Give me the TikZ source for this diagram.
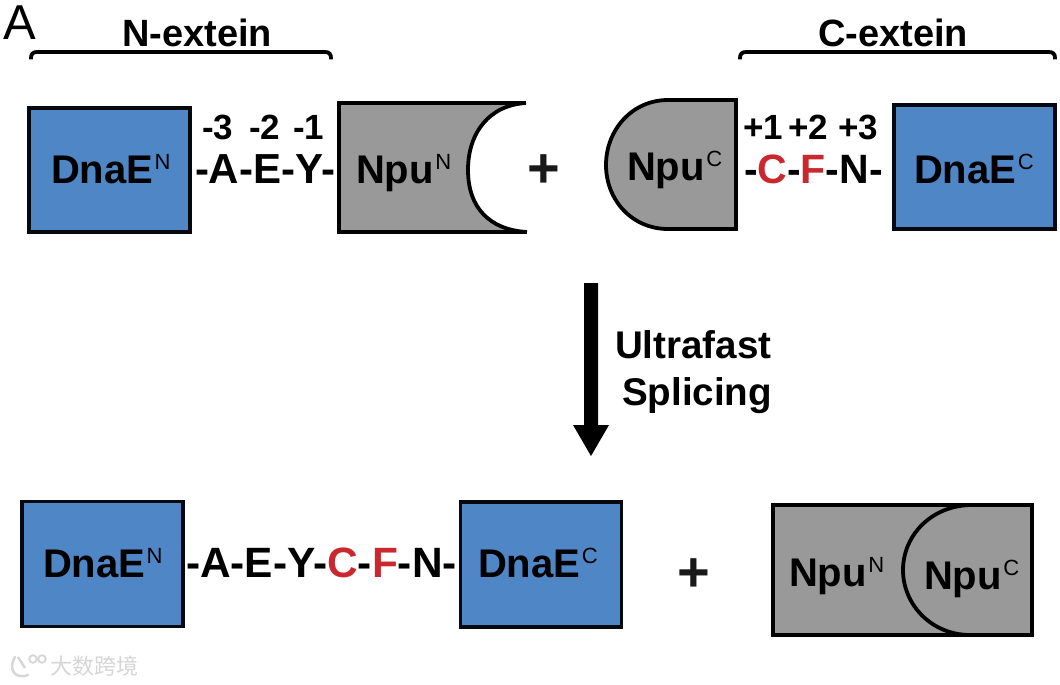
\documentclass[tikz,border=0pt]{standalone}
\usepackage{fontspec}
\setmainfont{Liberation Sans}
\newfontfamily\cjkwm{Noto Sans CJK SC}
\definecolor{boxblue}{HTML}{4F86C6}
\definecolor{boxgrey}{HTML}{999999}
\definecolor{resred}{HTML}{C8282E}
\definecolor{inkdark}{HTML}{05080F}
\definecolor{wmgrey}{HTML}{D6D6D6}
\newcommand{\supr}[1]{\kern1.5pt\raisebox{13.5pt}{\fontsize{22}{22}\selectfont\mdseries #1}}
\newcommand{\red}[1]{\textcolor{resred}{#1}}
\tikzset{
  lbl/.style={inner sep=0pt,outer sep=0pt,anchor=base west,text=black,font=\fontsize{40}{40}\selectfont\bfseries},
  seqlong/.style={lbl,font=\fontsize{42.4}{42.4}\selectfont\bfseries},
  seqshort/.style={lbl,font=\fontsize{41}{41}\selectfont\bfseries},
  seqleft/.style={lbl,font=\fontsize{42}{42}\selectfont\bfseries},
  num/.style={lbl,font=\fontsize{35}{35}\selectfont\bfseries},
  head/.style={lbl,font=\fontsize{38}{38}\selectfont\bfseries},
  stepfont/.style={lbl,font=\fontsize{38.6}{38.6}\selectfont\bfseries},
  plusmark/.style={inner sep=0pt,outer sep=0pt,anchor=center,text=black!90,font=\fontsize{56}{56}\selectfont\bfseries},
  bluebox/.style={draw=inkdark,fill=boxblue,line width=3.8pt,rectangle,inner sep=0pt,outer sep=0pt},
  shape line/.style={draw=black,line width=3.8pt,line join=miter},
  brace line/.style={draw=black,line width=3.8pt,line cap=butt},
}
\begin{document}
\begin{tikzpicture}[x=1pt,y=-1pt]
\useasboundingbox (0,0) rectangle (1060,685);
\fill[white] (0,0) rectangle (1060,685);

% Panel letter
\node[lbl,font=\fontsize{49}{49}\selectfont] (panel) at (3,40) {A};

% Headings and braces
\node[head] (nhead) at (122,47) {N-extein};
\node[head] (chead) at (818,47) {C-extein};
\draw[brace line] (31,59.5) -- (31,58) .. controls (31,54) and (33,52) .. (37,52) -- (325,52) .. controls (329,52) and (331,54) .. (331,58) -- (331,59.5);
\draw[brace line] (740,59.5) -- (740,58) .. controls (740,54) and (742,52) .. (746,52) -- (1049,52) .. controls (1053,52) and (1055,54) .. (1055,58) -- (1055,59.5);

% Top row
\node[bluebox,minimum width=161pt,minimum height=124pt] (topNbox) at (109.5,170) {};
\node[lbl] (topNtxt) at (51,183) {DnaE\supr{N}};
\node[num] (m3) at (202,139) {-3};
\node[num] (m2) at (249,139) {-2};
\node[num] (m1) at (293,139) {-1};
\node[seqleft] (topNseq) at (195,183) {-A-E-Y-};

\path[fill=boxgrey] (339,103) -- (526,103) .. controls (490,105) and (468,132) .. (468,170) .. controls (468,208) and (490,230) .. (527,232) -- (339,232) -- cycle;
\draw[shape line] (526,103) -- (339,103) -- (339,232) -- (527,232);
\draw[shape line] (526,103) .. controls (490,105) and (468,132) .. (468,170) .. controls (468,208) and (490,230) .. (527,232);
\node[lbl] (topNpuN) at (356,183) {Npu\supr{N}};

\node[plusmark] (plusA) at (544,171) {+};

\path[shape line,fill=boxgrey] (736,100) -- (668,100) .. controls (632,100) and (606,130) .. (606,165) .. controls (606,200) and (632,229) .. (668,229) -- (736,229) -- cycle;
\node[lbl] (topNpuC) at (627,180) {Npu\supr{C}};

\node[num] (p1) at (743,139) {+1};
\node[num] (p2) at (788,139) {+2};
\node[num] (p3) at (838,139) {+3};
\node[seqshort] (topCseq) at (744,183) {-\red{C}-\red{F}-N-};

\node[bluebox,minimum width=161pt,minimum height=124pt] (topCbox) at (974.5,167) {};
\node[lbl] (topCtxt) at (914,183) {DnaE\supr{C}};

% Reaction arrow
\coordinate (arrowtop) at (591,283);
\coordinate (arrowtip) at (591,456);
\fill[black] (584,283) -- (598,283) -- (598,425) -- (609,425) -- (arrowtip) -- (573,425) -- (584,425) -- cycle;
\node[stepfont] (ultra) at (615,358) {Ultrafast};
\node[stepfont] (splice) at (622,405) {Splicing};

% Bottom row
\node[bluebox,minimum width=161pt,minimum height=125pt] (botNbox) at (102.5,564) {};
\node[lbl] (botNtxt) at (43,577) {DnaE\supr{N}};
\node[seqlong] (botseq) at (186,577) {-A-E-Y-\red{C}-\red{F}-N-};
\node[bluebox,minimum width=161pt,minimum height=125pt] (botCbox) at (541,564.5) {};
\node[lbl] (botCtxt) at (478,577) {DnaE\supr{C}};
\node[plusmark] (plusB) at (694,575) {+};

\path[shape line,fill=boxgrey] (773,505) rectangle (1032,635);
\draw[shape line] (972,505) .. controls (932,505) and (903,535) .. (903,570) .. controls (903,605) and (932,635) .. (970,635);
\node[lbl] (botNpuN) at (789,586) {Npu\supr{N}};
\node[lbl] (botNpuC) at (924,589) {Npu\supr{C}};

% Watermark
\draw[wmgrey,line width=2.4pt,line cap=round] (15,657) .. controls (8,668) and (14,680) .. (28,675);
\draw[wmgrey,line width=2.4pt] (18,657) -- (25,668);
\draw[wmgrey,line width=1.8pt] (33,659) circle[radius=3.8] (42,659) circle[radius=3.8];
\node[inner sep=0pt,outer sep=0pt,anchor=base west,text=wmgrey,font=\fontsize{22}{22}\selectfont\cjkwm] (mark) at (50,674) {大数跨境};
\end{tikzpicture}
\end{document}
